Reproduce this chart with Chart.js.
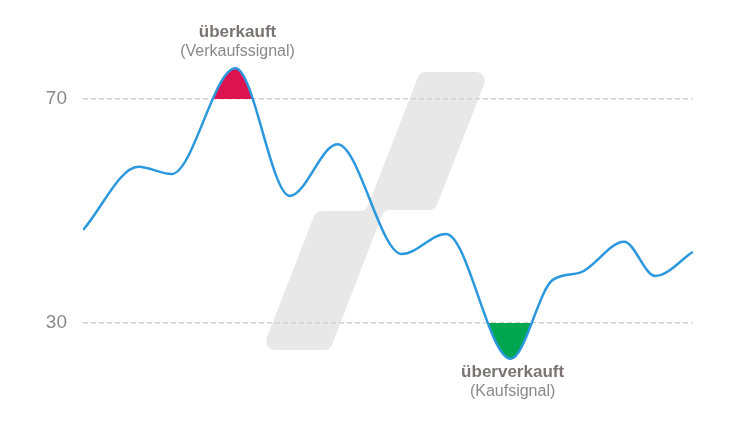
<!DOCTYPE html>
<html>
<head>
<meta charset="utf-8">
<script src="https://cdn.jsdelivr.net/npm/chart.js@4/dist/chart.umd.min.js"></script>
<style>
  html, body { margin: 0; padding: 0; background: #fff; }
  #wrap { width: 750px; height: 422px; }
</style>
</head>
<body>
<div id="wrap"><canvas id="rsi"></canvas></div>
<script>
// RSI-Verlauf (x = Zeit, y = RSI-Wert), Hoch- und Tiefpunkte
const xPos = [0, 9.1, 14.5, 25.0, 33.9, 41.7, 52.3, 59.5, 70.1, 77.0, 81.5, 88.7, 93.8, 100];
const rsi  = [46.6, 57.9, 56.6, 75.5, 52.7, 61.9, 42.3, 45.9, 23.6, 37.7, 39.0, 44.5, 38.4, 42.7];
const yTicks = [30, 70];
const upper = 70;
const lower = 30;
const topLabels = ['überkauft', '(Verkaufssignal)'];
const bottomLabels = ['überverkauft', '(Kaufsignal)'];

const points = xPos.map((x, i) => ({ x: x, y: rsi[i] }));

// grauer Hintergrund-Schriftzug
const watermark = {
  id: 'watermark',
  beforeDraw(chart) {
    const ctx = chart.ctx;
    const pts = [[420, 72], [489, 72], [435, 210], [384, 210], [330, 350], [262, 350], [316, 211], [366, 211]];
    const r = 9;
    ctx.save();
    ctx.fillStyle = '#e8e8e8';
    ctx.beginPath();
    const n = pts.length;
    const start = [(pts[n - 1][0] + pts[0][0]) / 2, (pts[n - 1][1] + pts[0][1]) / 2];
    ctx.moveTo(start[0], start[1]);
    for (let i = 0; i < n; i++) {
      const p = pts[i], q = pts[(i + 1) % n];
      ctx.arcTo(p[0], p[1], q[0], q[1], r);
    }
    ctx.closePath();
    ctx.fill();
    ctx.restore();
  }
};

const signalLabels = {
  id: 'signalLabels',
  afterDraw(chart) {
    const ctx = chart.ctx;
    const xs = chart.scales.x, ys = chart.scales.y;
    const iMax = rsi.indexOf(Math.max(...rsi));
    const iMin = rsi.indexOf(Math.min(...rsi));
    const px = xs.getPixelForValue(xPos[iMax]) + 2;
    const py = ys.getPixelForValue(rsi[iMax]);
    const qx = xs.getPixelForValue(xPos[iMin]) + 2;
    const qy = ys.getPixelForValue(rsi[iMin]);
    ctx.save();
    ctx.textAlign = 'center';
    ctx.textBaseline = 'middle';
    ctx.font = 'bold 17px "Liberation Sans", Arial, sans-serif';
    ctx.fillStyle = '#7a7474';
    ctx.fillText(topLabels[0], px, py - 36);
    ctx.fillText(bottomLabels[0], qx, qy + 13);
    ctx.font = '16px "Liberation Sans", Arial, sans-serif';
    ctx.fillStyle = '#8a8a8a';
    ctx.fillText(topLabels[1], px, py - 17);
    ctx.fillText(bottomLabels[1], qx, qy + 33);
    ctx.restore();
  }
};

new Chart(document.getElementById('rsi'), {
  type: 'line',
  data: {
    datasets: [
      {
        data: points,
        borderColor: '#2b98dd',
        borderWidth: 2.5,
        pointRadius: 0,
        cubicInterpolationMode: 'monotone',
        fill: { target: { value: upper }, above: '#dc1350', below: 'rgba(0,0,0,0)' },
        order: 0
      },
      {
        data: points,
        borderWidth: 0,
        borderColor: 'rgba(0,0,0,0)',
        pointRadius: 0,
        cubicInterpolationMode: 'monotone',
        fill: { target: { value: lower }, above: 'rgba(0,0,0,0)', below: '#00a54f' },
        order: 1
      }
    ]
  },
  options: {
    responsive: true,
    maintainAspectRatio: false,
    animation: false,
    layout: { padding: { left: 0, right: 57, top: 43, bottom: 43 } },
    plugins: { legend: { display: false }, tooltip: { enabled: false } },
    scales: {
      x: { type: 'linear', min: 0, max: 100, display: false },
      y: {
        min: 20,
        max: 80,
        afterBuildTicks: (scale) => { scale.ticks = yTicks.map(v => ({ value: v })); },
        afterFit: (scale) => { scale.width = 83; },
        grid: { color: '#d2d2d2', lineWidth: 1.5, drawTicks: false },
        border: { display: false, dash: [5, 3] },
        ticks: {
          padding: 16,
          color: '#8a8a8a',
          font: { family: '"Liberation Sans", Arial, sans-serif', size: 19 }
        }
      }
    }
  },
  plugins: [watermark, signalLabels]
});
</script>
</body>
</html>
